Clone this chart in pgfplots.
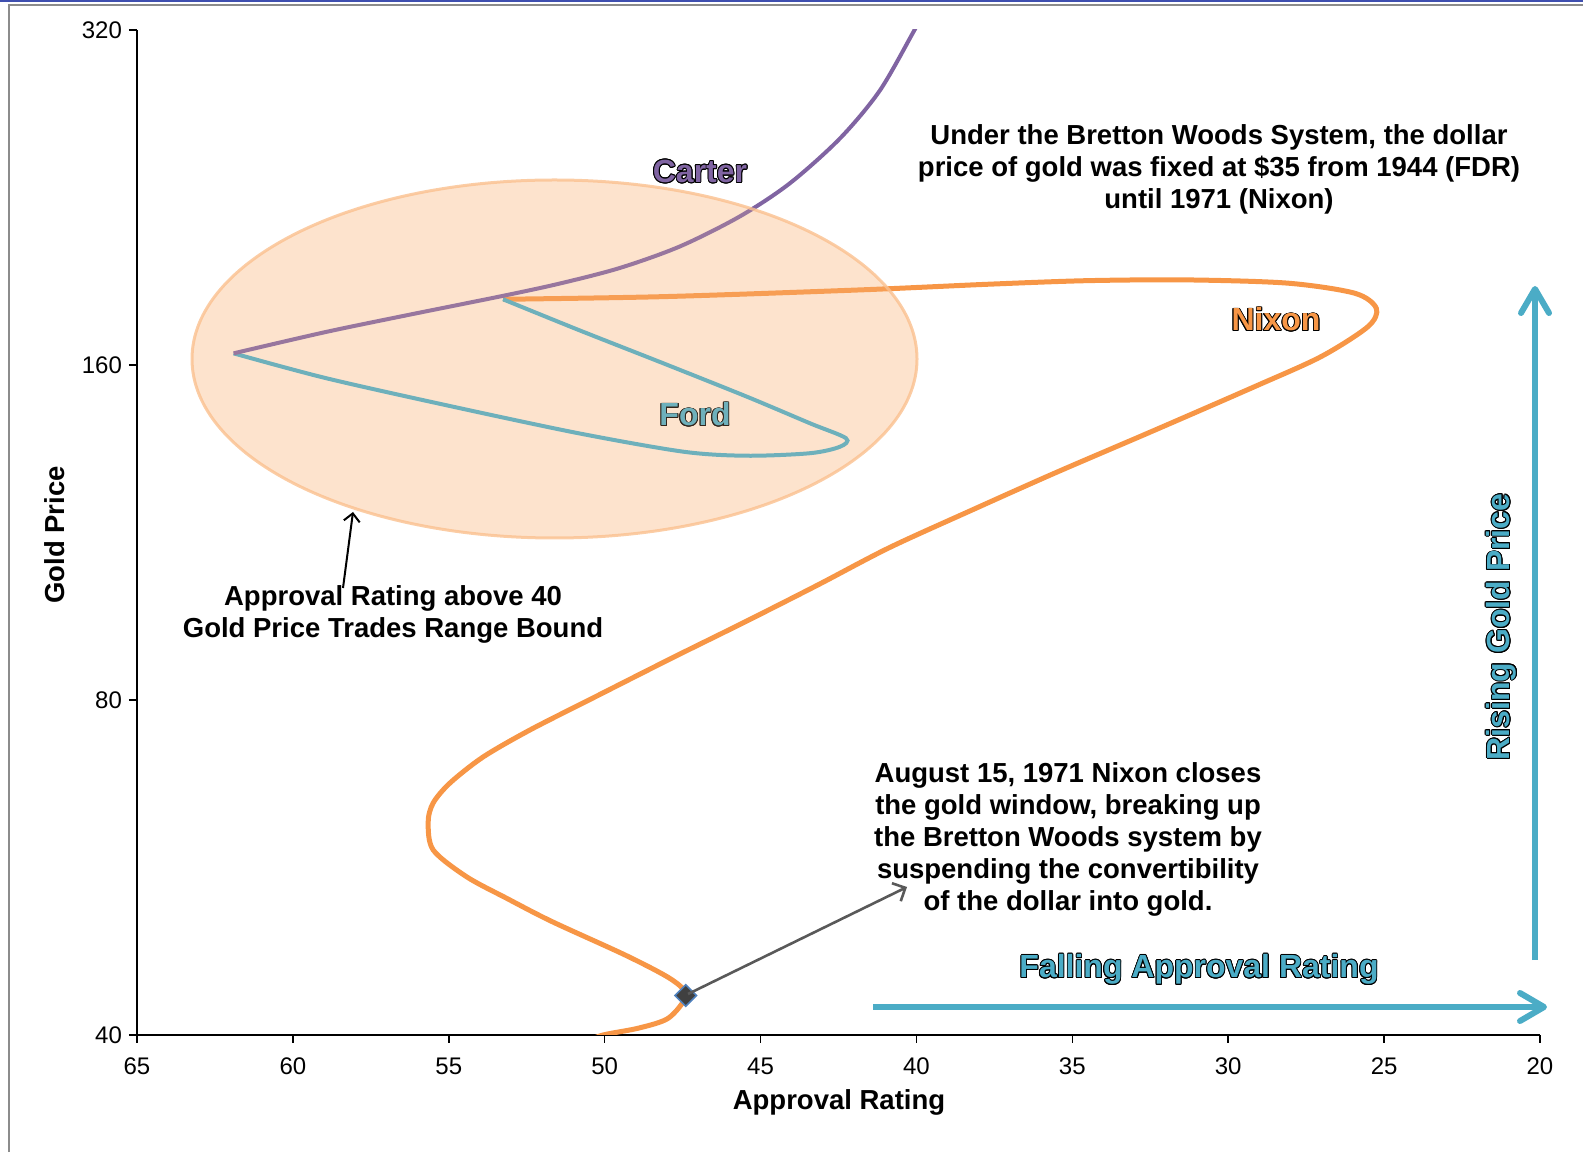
\documentclass[border=0pt]{standalone}
\usepackage{pgfplots}
\pgfplotsset{compat=1.18}
\usepackage{pgfplotstable}
\usepackage{fontspec}
\setmainfont{Liberation Sans}
\usetikzlibrary{arrows.meta}
\usepackage{contour}
\contourlength{0.45pt}
\definecolor{nixon}{HTML}{F79646}
\definecolor{carter}{HTML}{8064A2}
\definecolor{ford}{HTML}{4BACC6}
\definecolor{arr}{HTML}{4BACC6}
\definecolor{ellfill}{HTML}{FAC08F}
\definecolor{elledge}{HTML}{FAC08F}
\definecolor{framegrey}{HTML}{8C8C8C}
\definecolor{frameblue}{HTML}{3F4FAF}
\definecolor{dgrey}{HTML}{595959}
\definecolor{mkedge}{HTML}{4F81BD}

\pgfplotstableread{
x y
50.63 39.42
50.05 40.00
48.90 40.58
47.95 41.43
47.40 43.40
47.85 44.86
49.29 47.12
51.69 50.58
53.14 53.07
54.43 55.50
55.50 58.66
55.66 62.16
55.50 64.65
54.96 67.38
53.90 71.10
52.40 75.18
50.31 80.50
47.84 87.26
45.50 94.02
43.16 101.5
40.88 109.6
38.22 118.5
35.57 127.9
32.36 139.8
29.15 153.0
27.02 162.8
25.52 173.2
25.25 179.9
25.94 185.6
28.08 189.5
31.29 190.8
34.50 190.5
37.71 189.1
41.81 186.9
48.13 184.3
53.26 183.3
}\nixondata

\pgfplotstableread{
x y
53.26 183.3
50.83 172.0
48.13 160.6
45.43 149.8
43.41 141.8
42.26 137.5
42.45 135.1
43.41 133.3
45.43 132.6
47.46 133.7
50.83 138.9
54.88 146.8
58.94 155.7
61.90 163.9
}\forddata

\pgfplotstableread{
x y
61.90 163.9
58.94 171.3
56.24 177.6
53.26 184.6
51.43 189.4
49.51 195.6
47.58 204.5
45.66 217.6
44.06 233.0
42.45 255.7
41.17 282.4
40.05 320.4
39.57 338.4
}\carterdata

\begin{document}
\begin{tikzpicture}
% base of the shaded ellipse (under the curves)
\begin{scope}[shift={(0pt,576pt)}, x=0.5pt, y=-0.5pt]
  \fill[ellfill, fill opacity=0.3] (554.5,359) ellipse [x radius=362.5, y radius=179];
\end{scope}
\begin{axis}[
  at={(68.5pt,58.5pt)}, anchor=south west,
  scale only axis, width=701.5pt, height=502.5pt,
  x dir=reverse, xmin=20, xmax=65, xtick={20,25,...,65},
  ymode=log, log basis y=2, ymin=40, ymax=320,
  ytick={40,80,160,320}, yticklabels={40,80,160,320},
  yminorticks=false,
  axis x line*=bottom, axis y line*=left,
  axis line style={-, line width=1pt, black},
  tick align=outside, major tick length=4pt,
  tick style={black, line width=0.8pt},
  tick label style={font=\fontsize{12}{14}\selectfont},
  xticklabel style={yshift=-4pt},
  /pgf/number format/assume math mode=true,
  clip=true,
]
\addplot[nixon, line width=2.5pt, smooth, no marks] table {\nixondata};
\addplot[ford, line width=2pt, smooth, no marks] table {\forddata};
\addplot[carter, line width=2pt, smooth, no marks] table {\carterdata};
\addplot[only marks, mark=square*, mark size=3.8pt,
  mark options={rotate=45, fill=black!75, draw=mkedge, line width=0.8pt}] coordinates {(47.40,43.40)};
\end{axis}

\begin{scope}[shift={(0pt,576pt)}, x=0.5pt, y=-0.5pt]
  % frame
  \draw[frameblue, line width=1pt] (0,1) -- (1583,1);
  \draw[framegrey, line width=1pt] (9,1152) -- (9,5) -- (1583,5);
  % Ford label (under the ellipse overlay)
  \node[font=\bfseries\fontsize{16}{18}\selectfont] at (695,415) {\textcolor{ford}{\contour{black}{Ford}}};
  % ellipse overlay
  \fill[ellfill, fill opacity=0.2] (554.5,359) ellipse [x radius=362.5, y radius=179];
  \draw[elledge, line width=1.5pt, draw opacity=0.8] (554.5,359) ellipse [x radius=362.5, y radius=179];
  % labels
  \node[font=\bfseries\fontsize{16}{18}\selectfont] at (700,172) {\textcolor{carter}{\contour{black}{Carter}}};
  \node[font=\bfseries\fontsize{16}{18}\selectfont] at (1276,320) {\textcolor{nixon}{\contour{black}{Nixon}}};
  \node[font=\bfseries\fontsize{16}{18}\selectfont] at (1199,970) {\textcolor{arr}{\contour{black}{Falling Approval Rating}}};
  \node[font=\bfseries\fontsize{16}{18}\selectfont, rotate=90] at (1502,627) {\textcolor{arr}{\contour{black}{Rising Gold Price}}};
  % annotations
  \node[align=center, font=\bfseries\fontsize{13.75}{16}\selectfont] at (1219,169)
    {Under the Bretton Woods System, the dollar\\price of gold was fixed at \$35 from 1944 (FDR)\\until 1971 (Nixon)};
  \node[align=center, font=\bfseries\fontsize{13.75}{16}\selectfont] at (393,614.5)
    {Approval Rating above 40\\Gold Price Trades Range Bound};
  \node[align=center, font=\bfseries\fontsize{13.75}{16}\selectfont] at (1068,839)
    {August 15, 1971 Nixon closes\\the gold window, breaking up\\the Bretton Woods system by\\suspending the convertibility\\of the dollar into gold.};
  % axis labels
  \node[font=\bfseries\fontsize{13.75}{16}\selectfont, rotate=90] at (55,535) {Gold Price};
  \node[font=\bfseries\fontsize{13.75}{16}\selectfont] at (839,1102) {Approval Rating};
  % arrows
  \draw[black, line width=1pt, -{Straight Barb[length=4pt,width=8pt]}] (343,588) -- (353,512);
  \draw[dgrey, line width=1.3pt, -{Straight Barb[length=5pt,width=10pt]}] (688,994) -- (907,887);
  \draw[arr, line width=3pt, -{Straight Barb[length=12pt,width=14pt,round]}] (873,1007) -- (1547,1007);
  \draw[arr, line width=3pt, -{Straight Barb[length=12pt,width=14pt,round]}] (1535,960) -- (1535,286);
\end{scope}
\pgfresetboundingbox
\path (0,0) rectangle (791.5pt,576pt);
\end{tikzpicture}
\end{document}
